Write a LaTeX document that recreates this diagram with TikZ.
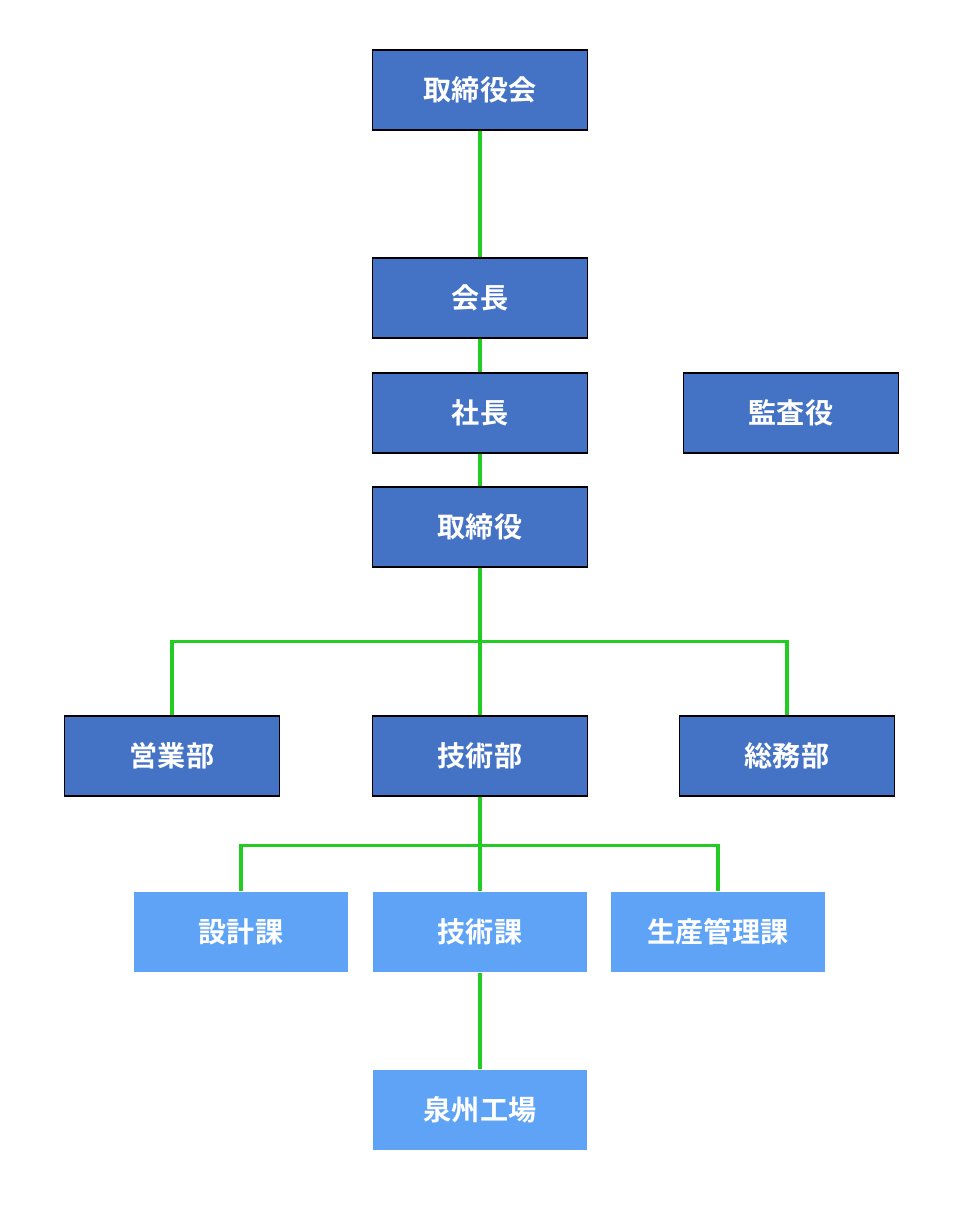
\documentclass[tikz,border=0pt]{standalone}
\usepackage{fontspec}
\newfontfamily\cjk{Noto Sans CJK JP}[BoldFont={* Bold}]
\definecolor{boxdark}{HTML}{4472C4}
\definecolor{boxlight}{HTML}{5FA3F7}
\definecolor{linkgreen}{HTML}{22CC22}
\begin{document}
\begin{tikzpicture}[x=0.02cm,y=-0.02cm,
    unit/.style={draw=black, fill=boxdark, line width=0.8pt, minimum width=4.3cm,
      minimum height=1.6cm, text=white, font=\cjk\bfseries\fontsize{16}{18}\selectfont},
    sect/.style={unit, draw=none, fill=boxlight},
    link/.style={linkgreen, line width=1.8pt}]
    \useasboundingbox (0,0) rectangle (960,1230);
    % board and officers
    \node[unit] (board) at (480,90) {取締役会};
    \node[unit] (chair) at (480,298) {会長};
    \node[unit] (pres) at (480,413) {社長};
    \node[unit] (audit) at (791,413) {監査役};
    \node[unit] (dirs) at (480,527) {取締役};
    % departments
    \node[unit] (sales) at (172,756) {営業部};
    \node[unit] (tech) at (480,756) {技術部};
    \node[unit] (admin) at (787,756) {総務部};
    % sections
    \node[sect] (design) at (241,932) {設計課};
    \node[sect] (techsec) at (480,932) {技術課};
    \node[sect] (prod) at (718,932) {生産管理課};
    \node[sect] (plant) at (480,1110) {泉州工場};
    % links
    \draw[link] (board) -- (chair);
    \draw[link] (chair) -- (pres);
    \draw[link] (pres) -- (dirs);
    \draw[link] (dirs) -- (tech);
    \draw[link] (sales.north) -- ++(0,-74) -| (admin.north);
    \draw[link] (design.north) -- ++(0,-46) -| (prod.north);
    \draw[link] (tech) -- (techsec);
    \draw[link] (techsec) -- (plant);
\end{tikzpicture}
\end{document}
